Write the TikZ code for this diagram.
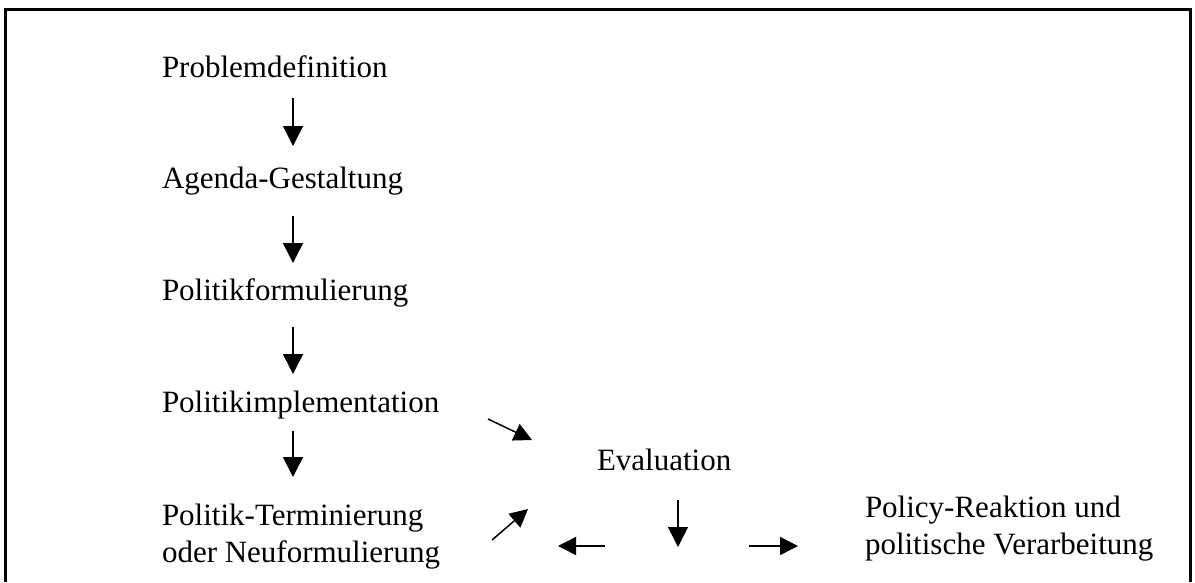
\documentclass[tikz,border=0pt]{standalone}
\usepackage{fontspec}
\setmainfont{Liberation Serif}
\usetikzlibrary{arrows.meta}
\newcommand{\twolines}[2]{\begin{tabular}[t]{@{}l@{}}#1\\#2\end{tabular}}
\tikzset{
  x=1pt, y=-1pt,
  label/.style={anchor=base west, inner sep=0pt, outer sep=0pt,
    font=\fontsize{31}{37}\selectfont},
  flow/.style={line width=1.5pt, -{Triangle[length=20pt,width=20pt]}},
  flowsmall/.style={line width=1.5pt, -{Triangle[length=18pt,width=18pt]}},
  frame/.style={line width=3pt}
}
\begin{document}
\begin{tikzpicture}
\useasboundingbox (0,0) rectangle (1195,582);
% open frame: top edge and both sides
\draw[frame] (5,582) -- (5,9) -- (1190,9) -- (1190,582);

% stages of the policy cycle
\node[label] (prob) at (162,77)  {Problemdefinition};
\node[label] (agen) at (162,188) {Agenda-Gestaltung};
\node[label] (form) at (162,300) {Politikformulierung};
\node[label] (impl) at (162,412) {Politikimplementation};
\node[label] (term) at (162,525) {\twolines{Politik-Terminierung}{oder Neuformulierung}};
\node[label] (eval) at (597,470) {Evaluation};
\node[label] (reak) at (865,517) {\twolines{Policy-Reaktion und}{politische Verarbeitung}};

% arrow end points
\coordinate (a1s) at (293,98);  \coordinate (a1e) at (293,146);
\coordinate (a2s) at (293,216); \coordinate (a2e) at (293,263);
\coordinate (a3s) at (293,327); \coordinate (a3e) at (293,374);
\coordinate (a4s) at (293,431); \coordinate (a4e) at (293,477);
\coordinate (d1s) at (488,419); \coordinate (d1e) at (532,440);
\coordinate (d2s) at (492,540); \coordinate (d2e) at (528,509);
\coordinate (ls)  at (605,546); \coordinate (le)  at (558,546);
\coordinate (ds)  at (678,500); \coordinate (de)  at (678,547);
\coordinate (rs)  at (749,546); \coordinate (re)  at (798,546);

\draw[flow] (a1s) -- (a1e);
\draw[flow] (a2s) -- (a2e);
\draw[flow] (a3s) -- (a3e);
\draw[flow] (a4s) -- (a4e);
\draw[flowsmall] (d1s) -- (d1e);
\draw[flowsmall] (d2s) -- (d2e);
\draw[flowsmall] (ls) -- (le);
\draw[flow] (ds) -- (de);
\draw[flowsmall] (rs) -- (re);
\end{tikzpicture}
\end{document}
